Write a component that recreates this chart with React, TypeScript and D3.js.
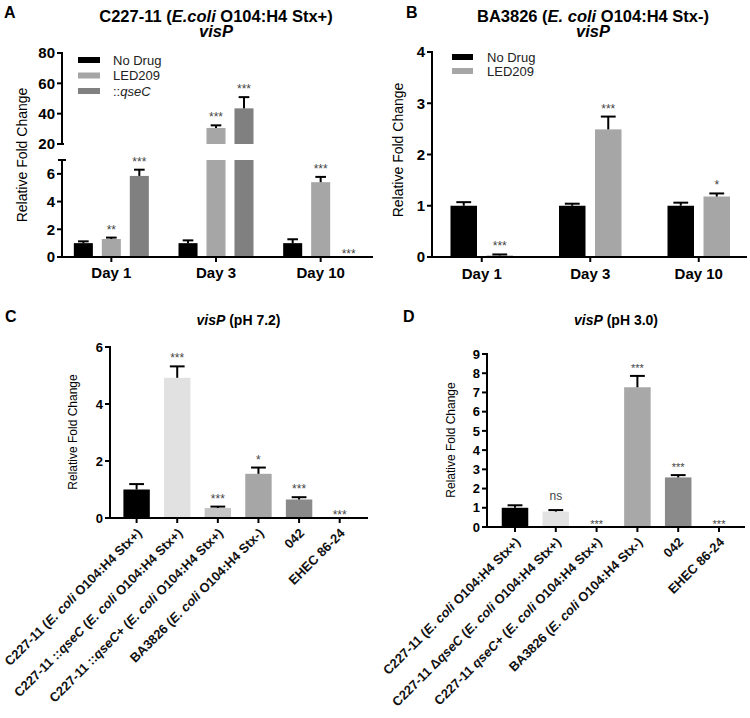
import React from "react";
import * as d3 from "d3";

const FONT = "'Liberation Sans', Arial, Helvetica, sans-serif";

// ---------- Panel A data ----------
const daysA = ["Day 1", "Day 3", "Day 10"];
const seriesA = ["No Drug", "LED209", "::qseC"];
const noDrugA = [1.0, 1.0, 1.0];
const noDrugErrA = [0.13, 0.2, 0.28];
const led209A = [1.3, 30.6, 5.4];
const led209ErrA = [0.1, 1.7, 0.38];
const qseCA = [5.85, 43.5, 0];
const qseCErrA = [0.45, 7.4, 0];
const sigNoDrugA = ["", "", ""];
const sigLedA = ["**", "***", "***"];
const sigQseCA = ["***", "***", "***"];
const yLowerTicksA = [0, 2, 4, 6];
const yUpperTicksA = [20, 40, 60, 80];

// ---------- Panel B data ----------
const daysB = ["Day 1", "Day 3", "Day 10"];
const seriesB = ["No Drug", "LED209"];
const noDrugB = [1.0, 1.0, 1.0];
const noDrugErrB = [0.07, 0.04, 0.06];
const led209B = [0.03, 2.49, 1.18];
const led209ErrB = [0.02, 0.25, 0.06];
const sigNoDrugB = ["", "", ""];
const sigLedB = ["***", "***", "*"];
const yTicksB = [0, 1, 2, 3, 4];

// ---------- Panel C data ----------
type Part = [string, boolean];
const strainsC: Part[][] = [
  [["C227-11 (", false], ["E. coli", true], [" O104:H4 Stx+)", false]],
  [["C227-11 ::", false], ["qseC", true], [" (", false], ["E. coli", true], [" O104:H4 Stx+)", false]],
  [["C227-11 ::", false], ["qseC", true], ["+ (", false], ["E. coli", true], [" O104:H4 Stx+)", false]],
  [["BA3826 (", false], ["E. coli", true], [" O104:H4 Stx-)", false]],
  [["042", false]],
  [["EHEC 86-24", false]],
];
const valuesC = [1.0, 4.92, 0.35, 1.55, 0.65, 0];
const errC = [0.19, 0.4, 0.05, 0.22, 0.08, 0];
const sigC = ["", "***", "***", "*", "***", "***"];
const yTicksC = [0, 2, 4, 6];

// ---------- Panel D data ----------
const strainsD: Part[][] = [
  [["C227-11 (", false], ["E. coli", true], [" O104:H4 Stx+)", false]],
  [["C227-11 Δ", false], ["qseC", true], [" (", false], ["E. coli", true], [" O104:H4 Stx+)", false]],
  [["C227-11 ", false], ["qseC+", true], [" (", false], ["E. coli", true], [" O104:H4 Stx+)", false]],
  [["BA3826 (", false], ["E. coli", true], [" O104:H4 Stx-)", false]],
  [["042", false]],
  [["EHEC 86-24", false]],
];
const valuesD = [1.0, 0.8, 0, 7.27, 2.58, 0];
const errD = [0.13, 0.08, 0, 0.59, 0.12, 0];
const sigD = ["", "ns", "***", "***", "***", "***"];
const yTicksD = [0, 1, 2, 3, 4, 5, 6, 7, 8, 9];

// ---------- styles ----------
const colorsA = ["#000000", "#a6a6a6", "#808080"];
const colorsB = ["#000000", "#a6a6a6"];
const colorsC = ["#000000", "#e1e1e1", "#c4c4c4", "#a6a6a6", "#8a8a8a", "#8a8a8a"];
const colorsD = ["#000000", "#e3e3e3", "#c4c4c4", "#a8a8a8", "#8a8a8a", "#8a8a8a"];

const SW = 2;

function ErrBar({ cx, yTop, yCap, bw }: { cx: number; yTop: number; yCap: number; bw: number }) {
  const hw = bw * 0.28;
  return (
    <g stroke="#000" strokeWidth={SW}>
      <line x1={cx} x2={cx} y1={yTop} y2={yCap} />
      <line x1={cx - hw} x2={cx + hw} y1={yCap} y2={yCap} />
    </g>
  );
}

function Sig({ x, y, text, size }: { x: number; y: number; text: string; size: number }) {
  if (!text) return null;
  const isNs = text === "ns";
  return (
    <text
      x={x}
      y={isNs ? y - 4 : y + 2}
      textAnchor="middle"
      fontSize={isNs ? 12 : size}
      fill="#444"
      fontFamily={FONT}
    >
      {text}
    </text>
  );
}

function RichLabel({ parts, x, y, size }: { parts: Part[]; x: number; y: number; size: number }) {
  return (
    <text
      transform={`translate(${x},${y}) rotate(-45)`}
      textAnchor="end"
      fontSize={size}
      fontWeight="bold"
      fontFamily={FONT}
      fill="#111"
    >
      {parts.map((p, i) => (
        <tspan key={i} fontStyle={p[1] ? "italic" : "normal"}>
          {p[0]}
        </tspan>
      ))}
    </text>
  );
}

function PanelA() {
  const axisX = 62;
  const x0 = d3.scaleBand<string>().domain(daysA).range([59, 373]);
  const x1 = d3.scaleBand<string>().domain(seriesA).range([-37.5, 37.5]).paddingInner(0.32);
  const yL = d3.scaleLinear().domain([0, 7]).range([257, 160]);
  const yU = d3.scaleLinear().domain([20, 80]).range([144, 53]);
  const vals = [noDrugA, led209A, qseCA];
  const errs = [noDrugErrA, led209ErrA, qseCErrA];
  const sigs = [sigNoDrugA, sigLedA, sigQseCA];
  const bw = x1.bandwidth();
  const bars: React.ReactNode[] = [];
  daysA.forEach((d, di) => {
    const gc = x0(d)! + x0.bandwidth() / 2;
    seriesA.forEach((s, si) => {
      const v = vals[si][di];
      const e = errs[si][di];
      const bx = gc + x1(s)!;
      const cx = bx + bw / 2;
      if (v > 7) {
        bars.push(<rect key={`l${di}${si}`} x={bx} width={bw} y={yL(7)} height={yL(0) - yL(7)} fill={colorsA[si]} />);
        bars.push(<rect key={`u${di}${si}`} x={bx} width={bw} y={yU(v)} height={yU(20) - yU(v)} fill={colorsA[si]} />);
        bars.push(<ErrBar key={`e${di}${si}`} cx={cx} yTop={yU(v)} yCap={yU(v + e)} bw={bw} />);
        bars.push(<Sig key={`s${di}${si}`} x={cx} y={yU(v + e) - 6} text={sigs[si][di]} size={12} />);
      } else {
        if (v > 0) {
          bars.push(<rect key={`l${di}${si}`} x={bx} width={bw} y={yL(v)} height={yL(0) - yL(v)} fill={colorsA[si]} />);
          bars.push(<ErrBar key={`e${di}${si}`} cx={cx} yTop={yL(v)} yCap={yL(v + e)} bw={bw} />);
        }
        bars.push(<Sig key={`s${di}${si}`} x={cx} y={yL(v + e) - (v > 0 ? 6 : 1)} text={sigs[si][di]} size={12} />);
      }
    });
  });
  return (
    <g>
      <text x={4} y={18} fontSize={16} fontWeight="bold" fontFamily={FONT}>A</text>
      <text x={216} y={22} textAnchor="middle" fontSize={16.5} fontWeight="bold" fontFamily={FONT}>
        C227-11 (<tspan fontStyle="italic">E.coli</tspan> O104:H4 Stx+)
      </text>
      <text x={216} y={37} textAnchor="middle" fontSize={16.5} fontWeight="bold" fontStyle="italic" fontFamily={FONT}>
        visP
      </text>
      {bars}
      {/* axes */}
      <g stroke="#000" strokeWidth={SW} fill="none">
        <line x1={axisX} x2={axisX} y1={yL(0) + 1} y2={yL(7)} />
        <line x1={axisX - 4} x2={axisX + 4} y1={yL(7)} y2={yL(7)} />
        <line x1={axisX} x2={axisX} y1={yU(20)} y2={yU(80) - 1} />
        <line x1={axisX - 1} x2={373} y1={yL(0)} y2={yL(0)} />
        {yLowerTicksA.map((t) => (
          <line key={`lt${t}`} x1={axisX - 5} x2={axisX} y1={yL(t)} y2={yL(t)} />
        ))}
        {yUpperTicksA.map((t) => (
          <line key={`ut${t}`} x1={axisX - 5} x2={axisX + (t === 20 ? 2 : 0)} y1={yU(t)} y2={yU(t)} />
        ))}
        {daysA.map((d) => {
          const gc = x0(d)! + x0.bandwidth() / 2;
          return <line key={d} x1={gc} x2={gc} y1={yL(0)} y2={yL(0) + 5} />;
        })}
      </g>
      <g fontFamily={FONT} fontWeight="bold" fontSize={15} textAnchor="end">
        {yLowerTicksA.map((t) => (
          <text key={`ll${t}`} x={axisX - 7} y={yL(t)} dy="0.36em">{t}</text>
        ))}
        {yUpperTicksA.map((t) => (
          <text key={`ul${t}`} x={axisX - 7} y={yU(t)} dy="0.36em">{t}</text>
        ))}
      </g>
      <g fontFamily={FONT} fontWeight="bold" fontSize={15} textAnchor="middle">
        {daysA.map((d) => (
          <text key={d} x={x0(d)! + x0.bandwidth() / 2} y={278}>{d}</text>
        ))}
      </g>
      <text transform="translate(22,155) rotate(-90)" dy="0.35em" textAnchor="middle" fontSize={14} fontFamily={FONT} fill="#000">
        Relative Fold Change
      </text>
      {/* legend */}
      <g fontFamily={FONT} fontSize={13}>
        {seriesA.map((s, i) => (
          <g key={s} transform={`translate(78,${60 + i * 15.5})`}>
            <rect x={0} y={-3} width={22} height={6} fill={colorsA[i]} />
            <text x={35} y={0} dy="0.35em" fill="#222">
              {s === "::qseC" ? (
                <>
                  ::<tspan fontStyle="italic">qseC</tspan>
                </>
              ) : (
                s
              )}
            </text>
          </g>
        ))}
      </g>
    </g>
  );
}

function PanelB() {
  const axisX = 432;
  const x0 = d3.scaleBand<string>().domain(daysB).range([427.5, 753]);
  const x1 = d3.scaleBand<string>().domain(seriesB).range([-31.25, 31.25]).paddingInner(0.264);
  const y = d3.scaleLinear().domain([0, 4]).range([257, 52]);
  const vals = [noDrugB, led209B];
  const errs = [noDrugErrB, led209ErrB];
  const sigs = [sigNoDrugB, sigLedB];
  const bw = x1.bandwidth();
  const bars: React.ReactNode[] = [];
  daysB.forEach((d, di) => {
    const gc = x0(d)! + x0.bandwidth() / 2;
    seriesB.forEach((s, si) => {
      const v = vals[si][di];
      const e = errs[si][di];
      const bx = gc + x1(s)!;
      const cx = bx + bw / 2;
      bars.push(<rect key={`r${di}${si}`} x={bx} width={bw} y={y(v)} height={y(0) - y(v)} fill={colorsB[si]} />);
      bars.push(<ErrBar key={`e${di}${si}`} cx={cx} yTop={y(v)} yCap={y(v + e)} bw={bw} />);
      bars.push(<Sig key={`s${di}${si}`} x={cx} y={y(v + e) - 6} text={sigs[si][di]} size={12} />);
    });
  });
  return (
    <g>
      <text x={406} y={18} fontSize={16} fontWeight="bold" fontFamily={FONT}>B</text>
      <text x={593} y={22} textAnchor="middle" fontSize={16.5} fontWeight="bold" fontFamily={FONT}>
        BA3826 (<tspan fontStyle="italic">E. coli</tspan> O104:H4 Stx-)
      </text>
      <text x={593} y={37} textAnchor="middle" fontSize={16.5} fontWeight="bold" fontStyle="italic" fontFamily={FONT}>
        visP
      </text>
      {bars}
      <g stroke="#000" strokeWidth={SW} fill="none">
        <line x1={axisX} x2={axisX} y1={y(0) + 1} y2={y(4) - 1} />
        <line x1={axisX - 1} x2={747} y1={y(0)} y2={y(0)} />
        {yTicksB.map((t) => (
          <line key={t} x1={axisX - 5} x2={axisX} y1={y(t)} y2={y(t)} />
        ))}
        {daysB.map((d) => {
          const gc = x0(d)! + x0.bandwidth() / 2;
          return <line key={d} x1={gc} x2={gc} y1={y(0)} y2={y(0) + 5} />;
        })}
      </g>
      <g fontFamily={FONT} fontWeight="bold" fontSize={15} textAnchor="end">
        {yTicksB.map((t) => (
          <text key={t} x={axisX - 7} y={y(t)} dy="0.36em">{t}</text>
        ))}
      </g>
      <g fontFamily={FONT} fontWeight="bold" fontSize={15} textAnchor="middle">
        {daysB.map((d) => (
          <text key={d} x={x0(d)! + x0.bandwidth() / 2} y={279}>{d}</text>
        ))}
      </g>
      <text transform="translate(398,150) rotate(-90)" dy="0.35em" textAnchor="middle" fontSize={14} fontFamily={FONT} fill="#000">
        Relative Fold Change
      </text>
      <g fontFamily={FONT} fontSize={13}>
        {seriesB.map((s, i) => (
          <g key={s} transform={`translate(452,${57 + i * 14})`}>
            <rect x={0} y={-3} width={21} height={6} fill={colorsB[i]} />
            <text x={35} y={0} dy="0.35em" fill="#222">{s}</text>
          </g>
        ))}
      </g>
    </g>
  );
}

function StrainPanel({
  letter,
  letterX,
  titleX,
  titleSuffix,
  axisX,
  axisY,
  axisEnd,
  yMax,
  yTopPx,
  bandRange,
  labels,
  values,
  errors,
  sigs,
  ticks,
  colors,
  tickSize,
  titleX2,
  titleY2,
  sigSize,
}: any) {
  const names = labels.map((_: any, i: number) => `s${i}`);
  const x = d3.scaleBand<string>().domain(names).range(bandRange).paddingInner(0.35).paddingOuter(0.175);
  const y = d3.scaleLinear().domain([0, yMax]).range([axisY, yTopPx]);
  const bw = x.bandwidth();
  return (
    <g>
      <text x={letterX} y={322} fontSize={16} fontWeight="bold" fontFamily={FONT}>{letter}</text>
      <text x={titleX} y={325} textAnchor="middle" fontSize={14} fontWeight="bold" fontFamily={FONT}>
        <tspan fontStyle="italic">visP</tspan>
        {titleSuffix}
      </text>
      {values.map((v: number, i: number) => {
        const bx = x(names[i])!;
        const cx = bx + bw / 2;
        const e = errors[i];
        return (
          <g key={i}>
            {v > 0 && <rect x={bx} width={bw} y={y(v)} height={axisY - y(v)} fill={colors[i]} />}
            {v > 0 && <ErrBar cx={cx} yTop={y(v)} yCap={y(v + e)} bw={bw} />}
            <Sig x={cx} y={v > 0 ? y(v + e) - 6 : axisY - 1} text={sigs[i]} size={sigSize} />
          </g>
        );
      })}
      <g stroke="#000" strokeWidth={SW} fill="none">
        <line x1={axisX} x2={axisX} y1={axisY + 1} y2={y(yMax) - 1} />
        <line x1={axisX - 1} x2={axisEnd} y1={axisY} y2={axisY} />
        {ticks.map((t: number) => (
          <line key={t} x1={axisX - 5} x2={axisX} y1={y(t)} y2={y(t)} />
        ))}
        {names.map((n: string) => {
          const cx = x(n)! + bw / 2;
          return <line key={n} x1={cx} x2={cx} y1={axisY} y2={axisY + 5} />;
        })}
      </g>
      <g fontFamily={FONT} fontWeight="bold" fontSize={tickSize} textAnchor="end">
        {ticks.map((t: number) => (
          <text key={t} x={axisX - 7} y={y(t)} dy="0.36em">{t}</text>
        ))}
      </g>
      <text transform={`translate(${titleX2},${titleY2}) rotate(-90)`} dy="0.35em" textAnchor="middle" fontSize={12} fontFamily={FONT} fill="#000">
        Relative Fold Change
      </text>
      {labels.map((parts: Part[], i: number) => {
        const cx = x(names[i])! + bw / 2;
        return <RichLabel key={i} parts={parts} x={cx + 6} y={axisY + 16} size={13} />;
      })}
    </g>
  );
}

export default function App() {
  return (
    <svg
      width={750}
      height={718}
      viewBox="0 0 750 718"
      style={{ position: "absolute", left: 0, top: 0, background: "#fff" }}
      fontFamily={FONT}
    >
      <rect width={750} height={718} fill="#fff" />
      <PanelA />
      <PanelB />
      <StrainPanel
        letter="C"
        letterX={5}
        titleX={238.5}
        titleSuffix=" (pH 7.2)"
        axisX={110}
        axisY={518}
        axisEnd={368}
        yMax={6}
        yTopPx={347}
        bandRange={[116.3, 360]}
        labels={strainsC}
        values={valuesC}
        errors={errC}
        sigs={sigC}
        ticks={yTicksC}
        colors={colorsC}
        tickSize={13}
        titleX2={73}
        titleY2={432}
        sigSize={12}
      />
      <StrainPanel
        letter="D"
        letterX={403}
        titleX={616}
        titleSuffix=" (pH 3.0)"
        axisX={487}
        axisY={527}
        axisEnd={745}
        yMax={9}
        yTopPx={354}
        bandRange={[494.6, 739.4]}
        labels={strainsD}
        values={valuesD}
        errors={errD}
        sigs={sigD}
        ticks={yTicksD}
        colors={colorsD}
        tickSize={13}
        titleX2={451}
        titleY2={440}
        sigSize={11}
      />
    </svg>
  );
}
